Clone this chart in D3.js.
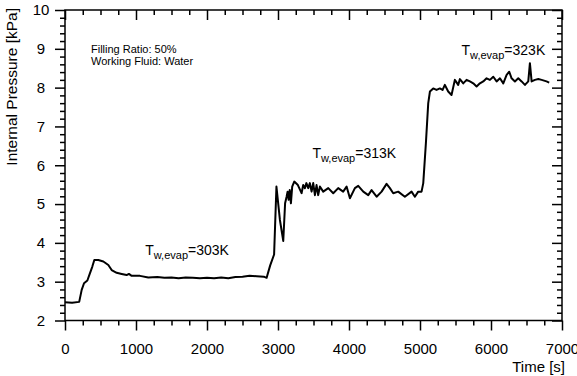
<!DOCTYPE html>
<html>
<head>
<meta charset="utf-8">
<script src="https://cdn.jsdelivr.net/npm/d3@7"></script>
<style>
  body { margin: 0; background: #fff; }
  svg, svg text { font-family: "Liberation Sans", Arial, sans-serif; }
</style>
</head>
<body>
<div id="chart"></div>
<script>
// time [s] and internal pressure [kPa]
const time = [0, 100, 200, 235, 268, 315, 352, 385, 413, 469,
  540, 610, 657, 728, 798, 868, 900, 939, 1056, 1173,
  1300, 1400, 1500, 1600, 1700, 1800, 1900, 2000, 2100, 2200,
  2300, 2400, 2500, 2600, 2700, 2800, 2840, 2890, 2945, 2978,
  3027, 3074, 3100, 3121, 3135, 3150, 3165, 3182, 3200, 3229,
  3280, 3332, 3355, 3379, 3400, 3426, 3449, 3473, 3496, 3520,
  3543, 3566, 3590, 3637, 3708, 3778, 3848, 3918, 3966, 4013,
  4083, 4130, 4201, 4271, 4318, 4389, 4459, 4529, 4576, 4623,
  4693, 4787, 4881, 4928, 4975, 5022, 5046, 5083, 5116, 5140,
  5163, 5186, 5233, 5280, 5318, 5350, 5397, 5444, 5491, 5538,
  5562, 5609, 5656, 5703, 5750, 5797, 5844, 5891, 5938, 5985,
  6032, 6079, 6126, 6173, 6220, 6257, 6290, 6337, 6384, 6431,
  6478, 6525, 6548, 6572, 6619, 6666, 6713, 6782, 6820];

const pressure = [2.47, 2.46, 2.48, 2.79, 2.96, 3.03, 3.22, 3.39, 3.56, 3.56,
  3.52, 3.43, 3.30, 3.23, 3.20, 3.17, 3.20, 3.15, 3.15, 3.11,
  3.12, 3.10, 3.11, 3.09, 3.11, 3.10, 3.09, 3.10, 3.09, 3.11,
  3.09, 3.12, 3.13, 3.15, 3.14, 3.13, 3.10, 3.42, 3.70, 5.45,
  4.59, 4.05, 5.02, 5.19, 5.32, 5.11, 5.36, 5.02, 5.45, 5.58,
  5.49, 5.28, 5.49, 5.41, 5.54, 5.41, 5.54, 5.32, 5.54, 5.23,
  5.49, 5.23, 5.45, 5.32, 5.41, 5.28, 5.41, 5.32, 5.45, 5.15,
  5.41, 5.47, 5.32, 5.23, 5.36, 5.19, 5.32, 5.52, 5.41, 5.28,
  5.32, 5.19, 5.32, 5.19, 5.32, 5.32, 5.54, 6.57, 7.60, 7.90,
  7.94, 7.98, 7.94, 7.98, 7.94, 8.07, 7.90, 7.81, 8.20, 8.07,
  8.22, 8.11, 8.20, 8.16, 8.11, 8.03, 8.11, 8.16, 8.24, 8.20,
  8.28, 8.16, 8.24, 8.11, 8.33, 8.41, 8.24, 8.16, 8.24, 8.16,
  8.07, 8.16, 8.63, 8.16, 8.20, 8.22, 8.20, 8.16, 8.13];

const xTicks = [0, 1000, 2000, 3000, 4000, 5000, 6000, 7000];
const yTicks = [2, 3, 4, 5, 6, 7, 8, 9, 10];

const stepLabels = [
  { t: 1130, p: 3.7, kelvin: "303K" },
  { t: 3485, p: 6.18, kelvin: "313K" },
  { t: 5585, p: 8.85, kelvin: "323K" }
];

const width = 577, height = 376;
const margin = { top: 10, right: 15, bottom: 55.5, left: 65 };
const fontFamily = '"Liberation Sans", Arial, sans-serif';

const svg = d3.select("#chart").append("svg")
    .attr("width", width)
    .attr("height", height);

const x = d3.scaleLinear()
    .domain([0, 7000])
    .range([margin.left, width - margin.right]);

const y = d3.scaleLinear()
    .domain([2, 10])
    .range([height - margin.bottom, margin.top]);

const xMinor = d3.range(0, 7001, 250).filter(d => d % 1000 !== 0);
const yMinor = d3.range(20, 101, 2).map(d => d / 10).filter(d => d % 1 !== 0);

function styleAxis(g) {
    g.attr("font-family", fontFamily);
    g.select(".domain").remove();
    g.selectAll("line").attr("stroke", "#000").attr("stroke-width", 1.5);
    g.selectAll("text").attr("fill", "#000").style("font-size", "15px");
}

// bottom axis (outward ticks)
svg.append("g")
    .attr("transform", `translate(0, ${y(2)})`)
    .call(d3.axisBottom(x).tickValues(xTicks).tickSize(10).tickPadding(13).tickFormat(d3.format("d")))
    .call(styleAxis);
svg.append("g")
    .attr("transform", `translate(0, ${y(2)})`)
    .call(d3.axisBottom(x).tickValues(xMinor).tickSize(5).tickFormat(""))
    .call(styleAxis);

// top axis (inward ticks)
svg.append("g")
    .attr("transform", `translate(0, ${y(10)})`)
    .call(d3.axisBottom(x).tickValues(xTicks).tickSize(10).tickFormat(""))
    .call(styleAxis);
svg.append("g")
    .attr("transform", `translate(0, ${y(10)})`)
    .call(d3.axisBottom(x).tickValues(xMinor).tickSize(5).tickFormat(""))
    .call(styleAxis);

// left axis (outward ticks)
svg.append("g")
    .attr("transform", `translate(${x(0)}, 0)`)
    .call(d3.axisLeft(y).tickValues(yTicks).tickSize(10).tickPadding(14).tickFormat(d3.format("d")))
    .call(styleAxis)
    .selectAll("text").attr("text-anchor", "middle");
svg.append("g")
    .attr("transform", `translate(${x(0)}, 0)`)
    .call(d3.axisLeft(y).tickValues(yMinor).tickSize(5).tickFormat(""))
    .call(styleAxis);

// right axis (inward ticks)
svg.append("g")
    .attr("transform", `translate(${x(7000)}, 0)`)
    .call(d3.axisLeft(y).tickValues(yTicks).tickSize(10).tickFormat(""))
    .call(styleAxis);
svg.append("g")
    .attr("transform", `translate(${x(7000)}, 0)`)
    .call(d3.axisLeft(y).tickValues(yMinor).tickSize(5).tickFormat(""))
    .call(styleAxis);

// frame
svg.append("rect")
    .attr("x", x(0))
    .attr("y", y(10))
    .attr("width", x(7000) - x(0))
    .attr("height", y(2) - y(10))
    .attr("fill", "none")
    .attr("stroke", "#000")
    .attr("stroke-width", 1.5);

// pressure trace
const line = d3.line()
    .x((d, i) => x(time[i]))
    .y(d => y(d));

svg.append("path")
    .datum(pressure)
    .attr("fill", "none")
    .attr("stroke", "#000")
    .attr("stroke-width", 2)
    .attr("stroke-linejoin", "round")
    .attr("d", line);

// axis titles
svg.append("text")
    .attr("transform", `translate(17, 8) rotate(-90)`)
    .attr("text-anchor", "end")
    .style("font-size", "15.5px")
    .text("Internal Pressure [kPa]");

svg.append("text")
    .attr("x", 565)
    .attr("y", 371.5)
    .attr("text-anchor", "end")
    .style("font-size", "15px")
    .text("Time [s]");

// notes
svg.append("text")
    .attr("x", 91)
    .attr("y", 52.5)
    .style("font-size", "11px")
    .text("Filling Ratio: 50%");
svg.append("text")
    .attr("x", 91)
    .attr("y", 64.5)
    .style("font-size", "11px")
    .text("Working Fluid: Water");

// step labels T_w,evap
stepLabels.forEach(s => {
    const t = svg.append("text")
        .attr("x", x(s.t))
        .attr("y", y(s.p))
        .style("font-size", "14px");
    t.append("tspan").text("T");
    t.append("tspan").attr("dy", 4).style("font-size", "11px").text("w,evap");
    t.append("tspan").attr("dy", -4).text("=" + s.kelvin);
});
</script>
</body>
</html>
